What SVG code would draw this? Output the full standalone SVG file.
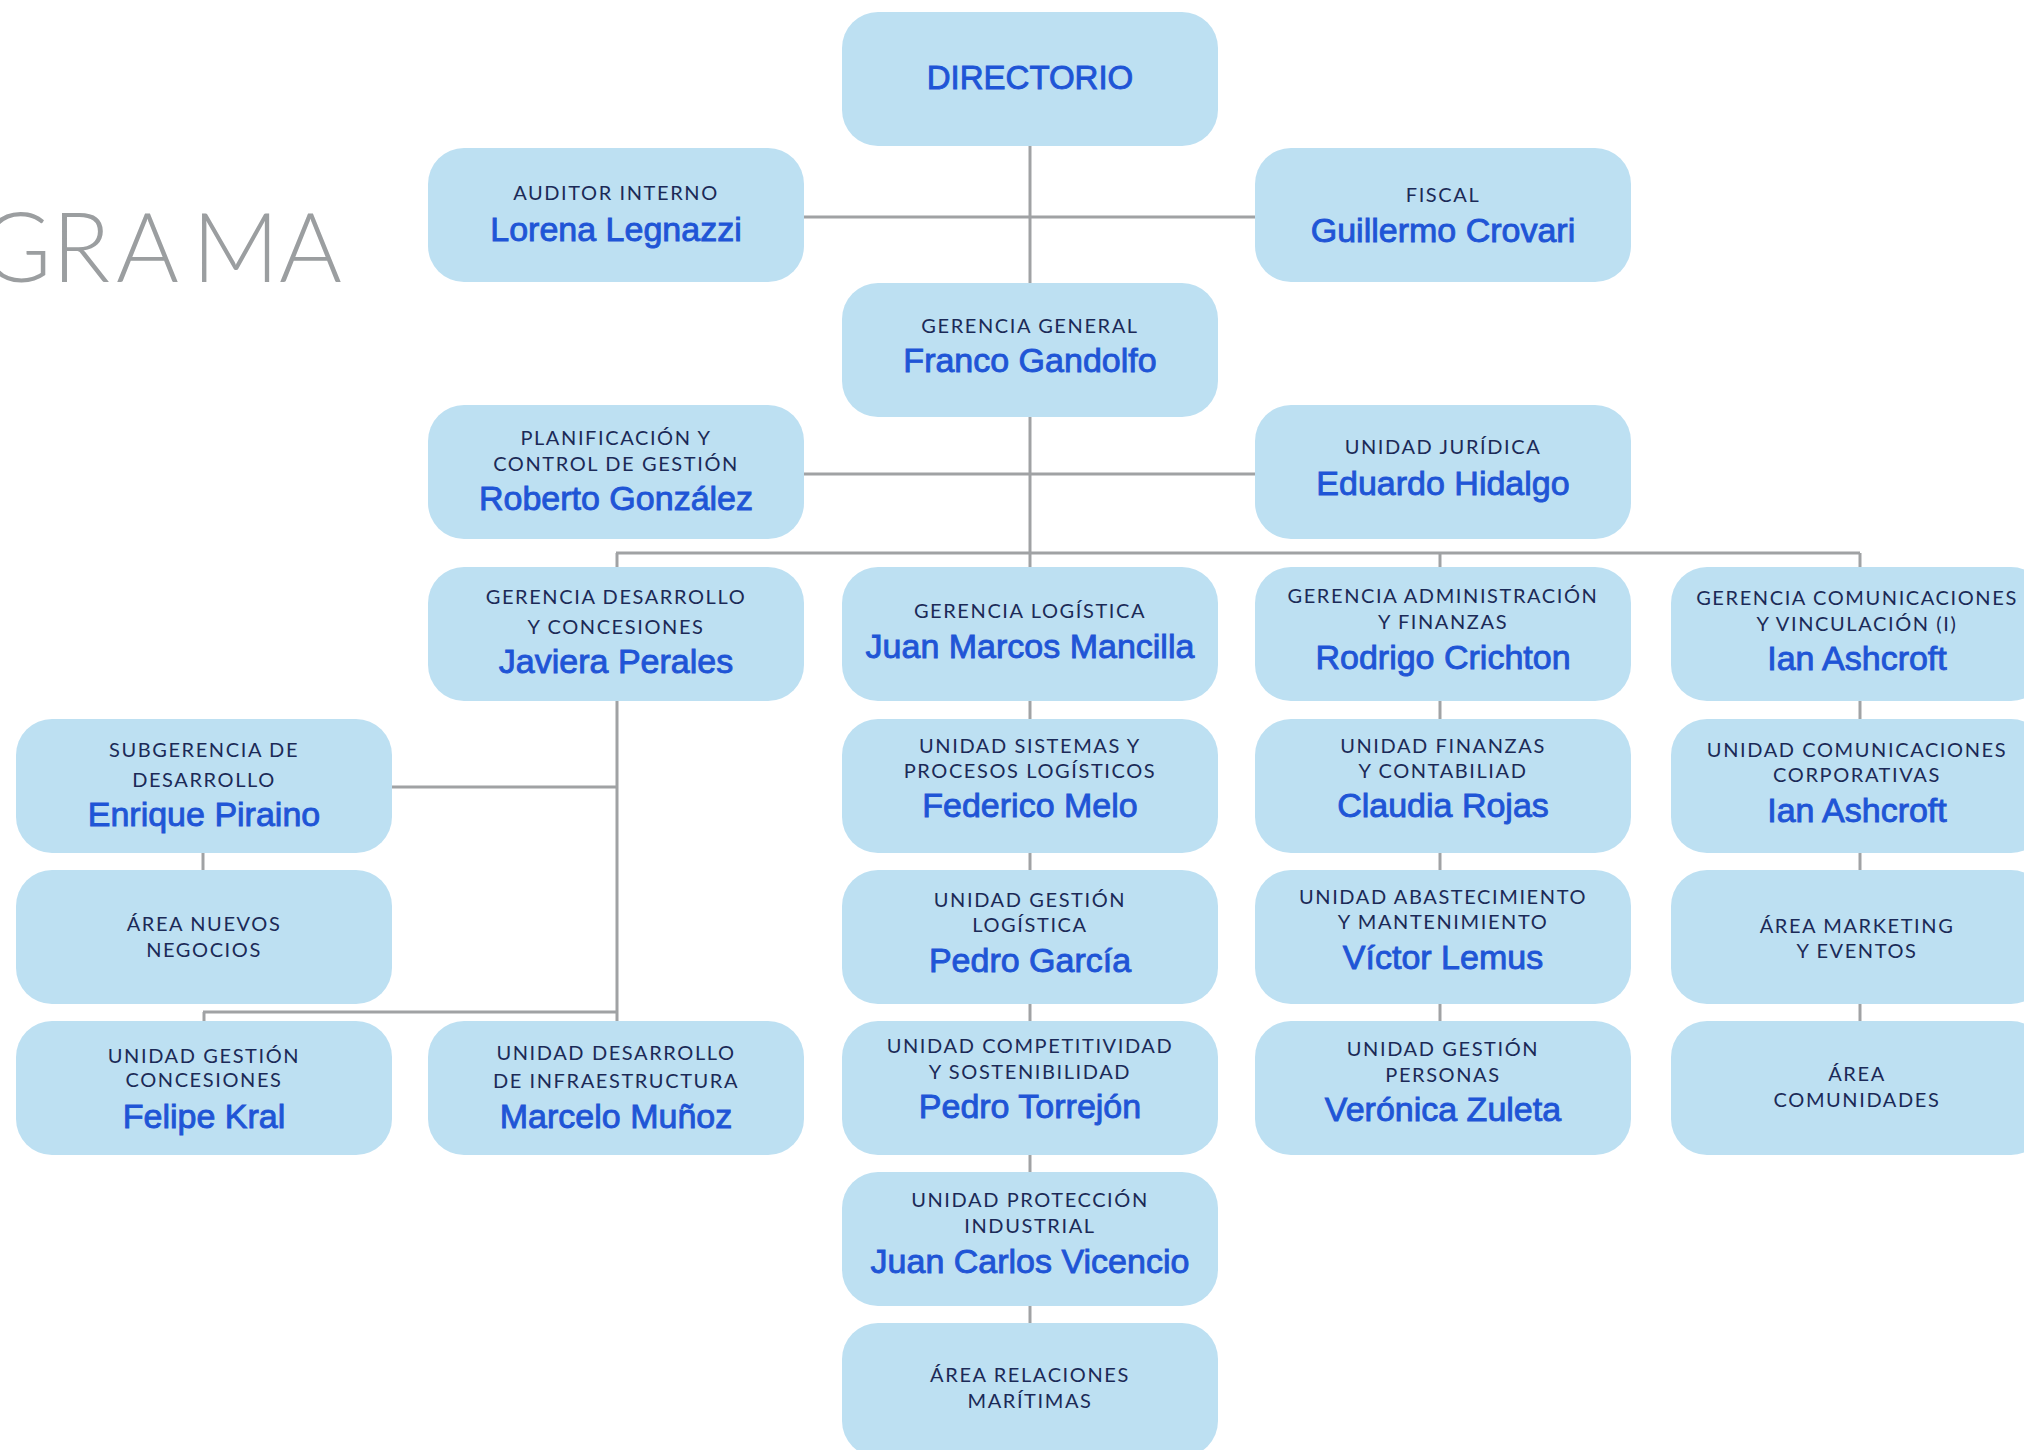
<svg xmlns="http://www.w3.org/2000/svg" width="2024" height="1450" viewBox="0 0 2024 1450">
<style>
.box{fill:#bde0f2}
.lbl{font-family:Lato,"Liberation Sans",sans-serif;font-size:20px;fill:#1b2a57;text-anchor:middle;letter-spacing:1.6px}
.nm{font-family:"Liberation Sans",Arial,sans-serif;font-size:34px;fill:#1f55d6;stroke:#1f55d6;stroke-width:0.9;text-anchor:middle}
.ttl{font-family:Lato,"Liberation Sans",sans-serif;font-weight:300;font-size:96px;fill:#9b9ea0}
#connectors line{stroke:#a0a2a4;stroke-width:3;fill:none}
</style>
<text class="ttl" x="-19 52 116 192 279" y="282">GRAMA</text>
<g id="connectors">
<line x1="1030" y1="146" x2="1030" y2="283"/>
<line x1="1030" y1="417" x2="1030" y2="567"/>
<line x1="804" y1="217" x2="1255" y2="217"/>
<line x1="804" y1="474" x2="1255" y2="474"/>
<line x1="616" y1="553" x2="1860" y2="553"/>
<line x1="617" y1="553" x2="617" y2="567"/>
<line x1="1440" y1="553" x2="1440" y2="567"/>
<line x1="1860" y1="553" x2="1860" y2="567"/>
<line x1="617" y1="701" x2="617" y2="1021"/>
<line x1="392" y1="787" x2="617" y2="787"/>
<line x1="203" y1="1012" x2="617" y2="1012"/>
<line x1="204" y1="1012" x2="204" y2="1021"/>
<line x1="203" y1="853" x2="203" y2="870"/>
<line x1="1030" y1="701" x2="1030" y2="719"/>
<line x1="1030" y1="853" x2="1030" y2="870"/>
<line x1="1030" y1="1004" x2="1030" y2="1021"/>
<line x1="1030" y1="1155" x2="1030" y2="1172"/>
<line x1="1030" y1="1306" x2="1030" y2="1323"/>
<line x1="1440" y1="701" x2="1440" y2="719"/>
<line x1="1440" y1="853" x2="1440" y2="870"/>
<line x1="1440" y1="1004" x2="1440" y2="1021"/>
<line x1="1860" y1="701" x2="1860" y2="719"/>
<line x1="1860" y1="853" x2="1860" y2="870"/>
<line x1="1860" y1="1004" x2="1860" y2="1021"/>
</g>
<g id="directorio"><rect class="box" x="842" y="12" width="376" height="134" rx="36"/><text class="nm" x="1030" y="89" style="font-size:33px">DIRECTORIO</text></g>
<g id="auditor"><rect class="box" x="428" y="148" width="376" height="134" rx="36"/><text class="lbl" x="616" y="200">AUDITOR INTERNO</text><text class="nm" x="616" y="241">Lorena Legnazzi</text></g>
<g id="fiscal"><rect class="box" x="1255" y="148" width="376" height="134" rx="36"/><text class="lbl" x="1443" y="202">FISCAL</text><text class="nm" x="1443" y="242">Guillermo Crovari</text></g>
<g id="gerencia-general"><rect class="box" x="842" y="283" width="376" height="134" rx="36"/><text class="lbl" x="1030" y="333">GERENCIA GENERAL</text><text class="nm" x="1030" y="372">Franco Gandolfo</text></g>
<g id="planificacion"><rect class="box" x="428" y="405" width="376" height="134" rx="36"/><text class="lbl" x="616" y="445">PLANIFICACIÓN Y</text><text class="lbl" x="616" y="471">CONTROL DE GESTIÓN</text><text class="nm" x="616" y="510">Roberto González</text></g>
<g id="juridica"><rect class="box" x="1255" y="405" width="376" height="134" rx="36"/><text class="lbl" x="1443" y="454">UNIDAD JURÍDICA</text><text class="nm" x="1443" y="495">Eduardo Hidalgo</text></g>
<g id="ger-desarrollo"><rect class="box" x="428" y="567" width="376" height="134" rx="36"/><text class="lbl" x="616" y="604">GERENCIA DESARROLLO</text><text class="lbl" x="616" y="634">Y CONCESIONES</text><text class="nm" x="616" y="673">Javiera Perales</text></g>
<g id="ger-logistica"><rect class="box" x="842" y="567" width="376" height="134" rx="36"/><text class="lbl" x="1030" y="618">GERENCIA LOGÍSTICA</text><text class="nm" x="1030" y="658">Juan Marcos Mancilla</text></g>
<g id="ger-admin"><rect class="box" x="1255" y="567" width="376" height="134" rx="36"/><text class="lbl" x="1443" y="603">GERENCIA ADMINISTRACIÓN</text><text class="lbl" x="1443" y="629">Y FINANZAS</text><text class="nm" x="1443" y="669">Rodrigo Crichton</text></g>
<g id="ger-comunicaciones"><rect class="box" x="1671" y="567" width="376" height="134" rx="36"/><text class="lbl" x="1857" y="605">GERENCIA COMUNICACIONES</text><text class="lbl" x="1857" y="631">Y VINCULACIÓN (I)</text><text class="nm" x="1857" y="670">Ian Ashcroft</text></g>
<g id="subgerencia"><rect class="box" x="16" y="719" width="376" height="134" rx="36"/><text class="lbl" x="204" y="757">SUBGERENCIA DE</text><text class="lbl" x="204" y="787">DESARROLLO</text><text class="nm" x="204" y="826">Enrique Piraino</text></g>
<g id="u-sistemas"><rect class="box" x="842" y="719" width="376" height="134" rx="36"/><text class="lbl" x="1030" y="753">UNIDAD SISTEMAS Y</text><text class="lbl" x="1030" y="778">PROCESOS LOGÍSTICOS</text><text class="nm" x="1030" y="817">Federico Melo</text></g>
<g id="u-finanzas"><rect class="box" x="1255" y="719" width="376" height="134" rx="36"/><text class="lbl" x="1443" y="753">UNIDAD FINANZAS</text><text class="lbl" x="1443" y="778">Y CONTABILIAD</text><text class="nm" x="1443" y="817">Claudia Rojas</text></g>
<g id="u-com-corp"><rect class="box" x="1671" y="719" width="376" height="134" rx="36"/><text class="lbl" x="1857" y="757">UNIDAD COMUNICACIONES</text><text class="lbl" x="1857" y="782">CORPORATIVAS</text><text class="nm" x="1857" y="822">Ian Ashcroft</text></g>
<g id="area-nuevos"><rect class="box" x="16" y="870" width="376" height="134" rx="36"/><text class="lbl" x="204" y="931">ÁREA NUEVOS</text><text class="lbl" x="204" y="957">NEGOCIOS</text></g>
<g id="u-gestion-logistica"><rect class="box" x="842" y="870" width="376" height="134" rx="36"/><text class="lbl" x="1030" y="907">UNIDAD GESTIÓN</text><text class="lbl" x="1030" y="932">LOGÍSTICA</text><text class="nm" x="1030" y="972">Pedro García</text></g>
<g id="u-abastecimiento"><rect class="box" x="1255" y="870" width="376" height="134" rx="36"/><text class="lbl" x="1443" y="904">UNIDAD ABASTECIMIENTO</text><text class="lbl" x="1443" y="929">Y MANTENIMIENTO</text><text class="nm" x="1443" y="969">Víctor Lemus</text></g>
<g id="area-marketing"><rect class="box" x="1671" y="870" width="376" height="134" rx="36"/><text class="lbl" x="1857" y="933">ÁREA MARKETING</text><text class="lbl" x="1857" y="958">Y EVENTOS</text></g>
<g id="u-gestion-concesiones"><rect class="box" x="16" y="1021" width="376" height="134" rx="36"/><text class="lbl" x="204" y="1063">UNIDAD GESTIÓN</text><text class="lbl" x="204" y="1087">CONCESIONES</text><text class="nm" x="204" y="1128">Felipe Kral</text></g>
<g id="u-infraestructura"><rect class="box" x="428" y="1021" width="376" height="134" rx="36"/><text class="lbl" x="616" y="1060">UNIDAD DESARROLLO</text><text class="lbl" x="616" y="1088">DE INFRAESTRUCTURA</text><text class="nm" x="616" y="1128">Marcelo Muñoz</text></g>
<g id="u-competitividad"><rect class="box" x="842" y="1021" width="376" height="134" rx="36"/><text class="lbl" x="1030" y="1053">UNIDAD COMPETITIVIDAD</text><text class="lbl" x="1030" y="1079">Y SOSTENIBILIDAD</text><text class="nm" x="1030" y="1118">Pedro Torrejón</text></g>
<g id="u-personas"><rect class="box" x="1255" y="1021" width="376" height="134" rx="36"/><text class="lbl" x="1443" y="1056">UNIDAD GESTIÓN</text><text class="lbl" x="1443" y="1082">PERSONAS</text><text class="nm" x="1443" y="1121">Verónica Zuleta</text></g>
<g id="area-comunidades"><rect class="box" x="1671" y="1021" width="376" height="134" rx="36"/><text class="lbl" x="1857" y="1081">ÁREA</text><text class="lbl" x="1857" y="1107">COMUNIDADES</text></g>
<g id="u-proteccion"><rect class="box" x="842" y="1172" width="376" height="134" rx="36"/><text class="lbl" x="1030" y="1207">UNIDAD PROTECCIÓN</text><text class="lbl" x="1030" y="1233">INDUSTRIAL</text><text class="nm" x="1030" y="1273">Juan Carlos Vicencio</text></g>
<g id="area-maritimas"><rect class="box" x="842" y="1323" width="376" height="134" rx="36"/><text class="lbl" x="1030" y="1382">ÁREA RELACIONES</text><text class="lbl" x="1030" y="1408">MARÍTIMAS</text></g>
</svg>
